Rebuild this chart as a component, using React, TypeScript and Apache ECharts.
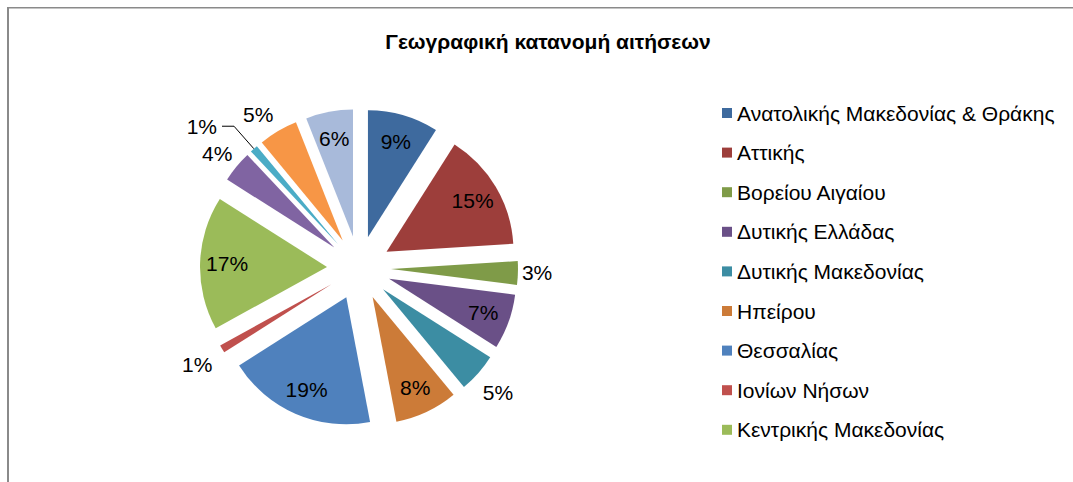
import React, { useEffect, useRef } from "react";
import * as echarts from "echarts";

const regions = [
  "Ανατολικής Μακεδονίας & Θράκης",
  "Αττικής",
  "Βορείου Αιγαίου",
  "Δυτικής Ελλάδας",
  "Δυτικής Μακεδονίας",
  "Ηπείρου",
  "Θεσσαλίας",
  "Ιονίων Νήσων",
  "Κεντρικής Μακεδονίας",
  "Κρήτης",
  "Νοτίου Αιγαίου",
  "Πελοποννήσου",
  "Στερεάς Ελλάδας",
];
const shares = [9, 15, 3, 7, 5, 8, 19, 1, 17, 4, 1, 5, 6];
const legendNames = regions.slice(0, 9);
const titleText = "Γεωγραφική κατανομή αιτήσεων";

const colors = [
  "#3E6A9E",
  "#9D3E3B",
  "#7F9B48",
  "#6A5087",
  "#3C8DA3",
  "#CC7B38",
  "#4F81BD",
  "#C0504D",
  "#9BBB59",
  "#8064A2",
  "#4BACC6",
  "#F79646",
  "#A8BADA",
];

// label placement styles for the slices whose labels sit outside
const outsideStyle: Record<number, { len: number; len2: number; dist: number; line?: boolean }> = {
  2: { len: 0, len2: 0, dist: 4 },
  4: { len: 30, len2: -18, dist: 0 },
  7: { len: 31, len2: -17, dist: 0 },
  9: { len: 21, len2: -12, dist: 0 },
  10: { len: 30, len2: 12, dist: 5, line: true },
  11: { len: 19, len2: -5, dist: 0 },
};

const FONT = "'Liberation Sans', Arial, sans-serif";

export default function App() {
  const ref = useRef<HTMLDivElement>(null);
  useEffect(() => {
    if (!ref.current) return;
    const chart = echarts.init(ref.current, undefined, { renderer: "svg" });
    const center = [359, 268];
    const labelText = (p: any) => `${p.value}%`;

    const shapeData = regions.map((name, i) => {
      const o = outsideStyle[i];
      return {
        name,
        value: shares[i],
        selected: true,
        itemStyle: { color: colors[i] },
        label: o
          ? {
              show: true,
              position: "outside",
              distanceToLabelLine: o.dist,
            }
          : { show: false },
        labelLine: o
          ? {
              show: !!o.line,
              length: o.len,
              length2: o.len2,
              lineStyle: { color: "#000", width: 1 },
            }
          : { show: false },
      };
    });

    const insideData = regions.map((name, i) => ({
      name,
      value: shares[i],
      selected: true,
      label: { show: !outsideStyle[i] },
    }));

    chart.setOption({
      animation: false,
      backgroundColor: "#fff",
      graphic: [
        { type: "rect", silent: true, shape: { x: 7, y: 7, width: 2, height: 475 }, style: { fill: "#8A8A8A" } },
        { type: "rect", silent: true, shape: { x: 7, y: 7, width: 1066, height: 1.5 }, style: { fill: "#8A8A8A" } },
        {
          type: "text",
          x: 548,
          y: 41,
          style: {
            text: titleText,
            font: `bold 21px ${FONT}`,
            fill: "#000",
            textAlign: "center",
            textVerticalAlign: "middle",
          },
        },
      ],
      legend: {
        data: legendNames,
        orient: "vertical",
        left: 722,
        top: 101,
        padding: 0,
        itemWidth: 10,
        itemHeight: 10,
        itemGap: 15.6,
        icon: "rect",
        selectedMode: false,
        textStyle: { fontSize: 21, fontFamily: FONT, color: "#000", lineHeight: 24, padding: [0, 0, 0, 0] },
      },
      series: [
        {
          type: "pie",
          radius: [0, 127],
          center,
          startAngle: 90,
          clockwise: true,
          selectedMode: "multiple",
          selectedOffset: 32,
          avoidLabelOverlap: false,
          silent: true,
          emphasis: { disabled: true },
          itemStyle: { borderWidth: 0 },
          label: { fontSize: 21, fontFamily: FONT, color: "#000", formatter: labelText },
          data: shapeData,
        },
        {
          type: "pie",
          radius: [67, 127],
          center,
          startAngle: 90,
          clockwise: true,
          selectedMode: "multiple",
          selectedOffset: 32,
          avoidLabelOverlap: false,
          silent: true,
          emphasis: { disabled: true },
          itemStyle: { color: "rgba(0,0,0,0)", borderWidth: 0 },
          label: { position: "inside", fontSize: 21, fontFamily: FONT, color: "#000", formatter: labelText },
          labelLine: { show: false },
          data: insideData,
        },
      ],
    });
    return () => chart.dispose();
  }, []);
  return (
    <div
      ref={ref}
      style={{ position: "absolute", left: 0, top: 0, width: 1073, height: 482, background: "#fff" }}
    />
  );
}
